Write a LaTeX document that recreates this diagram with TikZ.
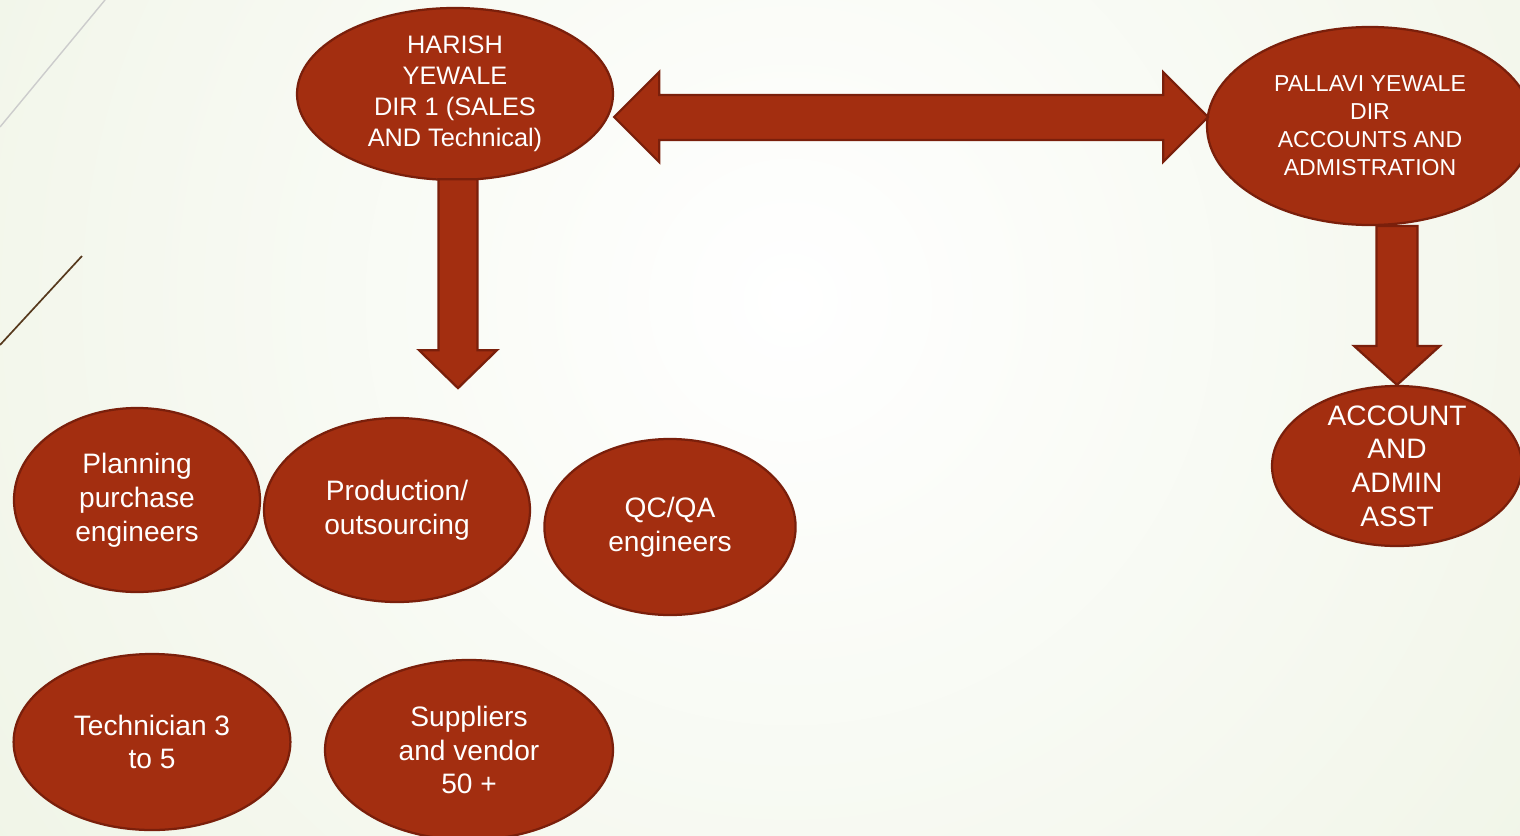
\documentclass[tikz,border=0pt]{standalone}
\usepackage{fontspec}
\setmainfont{Liberation Sans}
\usetikzlibrary{shapes.geometric,calc}

\definecolor{bubblefill}{RGB}{163,46,16}
\definecolor{bubbleedge}{RGB}{122,31,11}
\definecolor{bgouter}{RGB}{229,237,213}

\tikzstyle{bubble} = [ellipse, draw=bubbleedge, fill=bubblefill, line width=0.8pt,
    text=white, align=center, inner sep=0pt, inner ysep=-4pt,
    font=\fontsize{10}{12}\selectfont]
\tikzstyle{fatarrow} = [draw=bubbleedge, fill=bubblefill, line width=0.8pt]

\begin{document}
\begin{tikzpicture}[x=0.125mm, y=-0.125mm]
\useasboundingbox (0,0) rectangle (1520,835);
\clip (0,0) rectangle (1520,835);
% background
\shade[inner color=white, outer color=bgouter] (790,300) circle (1700);
\draw[black!20, line width=0.5pt] (105,0) -- (0,127);
\draw[black!55!brown, line width=0.6pt] (82,256) -- (0,345);

% directors
\node [bubble, minimum width=39.5mm, minimum height=21.5mm,
       font=\fontsize{9}{11}\selectfont] (harish) at (455,94)
      {HARISH\\YEWALE\\DIR 1 (SALES\\AND Technical)};
\node [bubble, minimum width=40.75mm, minimum height=24.75mm,
       font=\fontsize{8.2}{10}\selectfont] (pallavi) at (1370,126)
      {PALLAVI YEWALE\\DIR\\ACCOUNTS AND\\ADMISTRATION};

% staff
\node [bubble, minimum width=31.25mm, minimum height=20mm] (asst) at (1397,466)
      {ACCOUNT\\AND\\ADMIN\\ASST};
\node [bubble, minimum width=30.75mm, minimum height=23mm] (planning) at (137,500)
      {Planning\\purchase\\engineers};
\node [bubble, minimum width=33.25mm, minimum height=23mm] (production) at (397,510)
      {Production/\\outsourcing};
\node [bubble, minimum width=31.4mm, minimum height=22mm] (qcqa) at (670,527)
      {QC/QA\\engineers};
\node [bubble, minimum width=34.6mm, minimum height=22mm] (technician) at (152,742)
      {Technician 3\\to 5};
\node [bubble, minimum width=36mm, minimum height=22.5mm] (suppliers) at (469,750)
      {Suppliers\\and vendor\\50 +};

% block arrows
\coordinate (link) at ($(harish.east)+(0,23)$);
\draw [fatarrow, shift={(link)}] (0,0) -- (45,-45) -- (45,-22) -- (549,-22)
      -- (549,-45) -- (594,0) -- (549,45) -- (549,23) -- (45,23) -- (45,45) -- cycle;
\draw [fatarrow, shift={(harish.south)}] (-16.5,-2) -- (-16.5,169) -- (-36,169)
      -- (3,207) -- (42,169) -- (22.5,169) -- (22.5,-2) -- cycle;
\draw [fatarrow, shift={(asst.north)}] (0,0) -- (-43,-39) -- (-20.5,-39)
      -- (-20.5,-159) -- (20.5,-159) -- (20.5,-39) -- (43,-39) -- cycle;
\end{tikzpicture}
\end{document}
